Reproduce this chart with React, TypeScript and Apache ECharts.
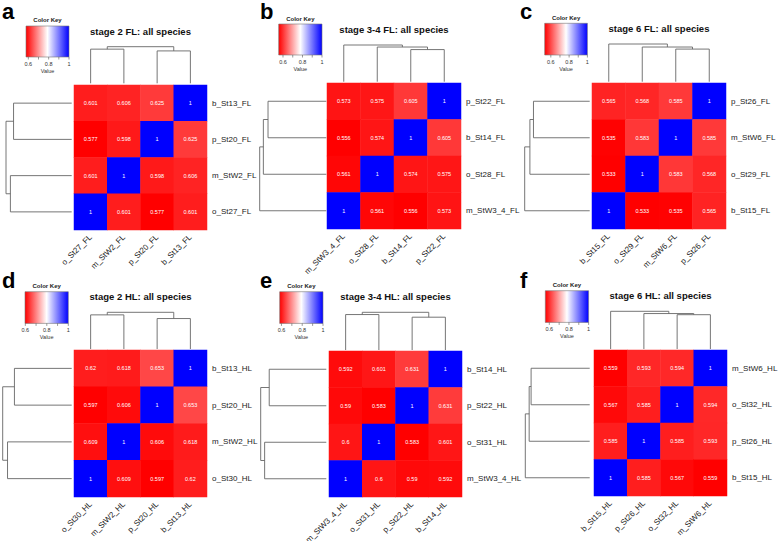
import React, { useEffect, useRef } from 'react';
import * as echarts from 'echarts';

const letters = ['a', 'b', 'c', 'd', 'e', 'f'];
const titles = [
  'stage 2 FL: all species',
  'stage 3-4 FL: all species',
  'stage 6 FL: all species',
  'stage 2 HL: all species',
  'stage 3-4 HL: all species',
  'stage 6 HL: all species',
];

// row labels, top to bottom (columns are the same labels in reverse order)
const labelsA = ['b_St13_FL', 'p_St20_FL', 'm_StW2_FL', 'o_St27_FL'];
const labelsB = ['p_St22_FL', 'b_St14_FL', 'o_St28_FL', 'm_StW3_4_FL'];
const labelsC = ['p_St26_FL', 'm_StW6_FL', 'o_St29_FL', 'b_St15_FL'];
const labelsD = ['b_St13_HL', 'p_St20_HL', 'm_StW2_HL', 'o_St30_HL'];
const labelsE = ['b_St14_HL', 'p_St22_HL', 'o_St31_HL', 'm_StW3_4_HL'];
const labelsF = ['m_StW6_HL', 'o_St32_HL', 'p_St26_HL', 'b_St15_HL'];

// cell values, rows top to bottom, columns left to right
const valuesA = [
  [0.601, 0.606, 0.625, 1],
  [0.577, 0.598, 1, 0.625],
  [0.601, 1, 0.598, 0.606],
  [1, 0.601, 0.577, 0.601],
];
const valuesB = [
  [0.573, 0.575, 0.605, 1],
  [0.556, 0.574, 1, 0.605],
  [0.561, 1, 0.574, 0.575],
  [1, 0.561, 0.556, 0.573],
];
const valuesC = [
  [0.565, 0.568, 0.585, 1],
  [0.535, 0.583, 1, 0.585],
  [0.533, 1, 0.583, 0.568],
  [1, 0.533, 0.535, 0.565],
];
const valuesD = [
  [0.62, 0.618, 0.653, 1],
  [0.597, 0.606, 1, 0.653],
  [0.609, 1, 0.606, 0.618],
  [1, 0.609, 0.597, 0.62],
];
const valuesE = [
  [0.592, 0.601, 0.631, 1],
  [0.59, 0.583, 1, 0.631],
  [0.6, 1, 0.583, 0.601],
  [1, 0.6, 0.59, 0.592],
];
const valuesF = [
  [0.559, 0.593, 0.594, 1],
  [0.567, 0.585, 1, 0.594],
  [0.585, 1, 0.585, 0.593],
  [1, 0.585, 0.567, 0.559],
];

// dendrogram merges (L = leaf in row order, M = earlier merge) and relative heights
const mergesA = [['L0', 'L1'], ['L2', 'L3'], ['M0', 'M1']];
const heightsA = [0.885, 0.933, 1];
const mergesB = [['L0', 'L1'], ['M0', 'L2'], ['M1', 'L3']];
const heightsB = [0.875, 0.945, 1];
const mergesC = [['L0', 'L1'], ['M0', 'L2'], ['M1', 'L3']];
const heightsC = [0.865, 0.92, 1];
const mergesD = [['L0', 'L1'], ['L2', 'L3'], ['M0', 'M1']];
const heightsD = [0.83, 0.93, 1];
const mergesE = [['L0', 'L1'], ['L2', 'L3'], ['M0', 'M1']];
const heightsE = [0.87, 0.94, 1];
const mergesF = [['L0', 'L1'], ['M0', 'L2'], ['M1', 'L3']];
const heightsF = [0.91, 0.94, 1];

const keyTicks = [0.6, 0.7, 0.8, 0.9, 1];
const keyTickLabels = ['0.6', '', '0.8', '', '1'];

const allLabels = [labelsA, labelsB, labelsC, labelsD, labelsE, labelsF];
const allValues = [valuesA, valuesB, valuesC, valuesD, valuesE, valuesF];
const allMerges = [mergesA, mergesB, mergesC, mergesD, mergesE, mergesF];
const allHeights = [heightsA, heightsB, heightsC, heightsD, heightsE, heightsF];

// layout (pixels)
const layouts = [
  { hm: [74, 85, 133, 145], rd: [6, 71.7], cd: [46.7, 83.3], key: [26, 26, 43, 31], keyTitleY: 20, letter: [2, 0], titleY: 31 },
  { hm: [327, 83, 134, 146], rd: [259.7, 326.3], cd: [45, 81.7], key: [278.7, 24, 43.3, 31], keyTitleY: 19, letter: [260, 0], titleY: 29.3 },
  { hm: [592, 83, 134, 146], rd: [524.7, 589.7], cd: [44, 81.7], key: [544.7, 23.3, 42.7, 31.7], keyTitleY: 18.3, letter: [520, 0], titleY: 28.3 },
  { hm: [74, 350, 133, 147], rd: [2.7, 71.7], cd: [312.3, 349], key: [25, 291.7, 43.3, 31.7], keyTitleY: 286, letter: [2, 269], titleY: 296.7 },
  { hm: [329, 351, 133, 146], rd: [260.7, 326.3], cd: [312.3, 350], key: [279.7, 291.7, 43.3, 31.7], keyTitleY: 286, letter: [260, 269], titleY: 296 },
  { hm: [594, 350, 133, 146], rd: [525.3, 589.7], cd: [311.3, 349], key: [545.3, 290.7, 43.3, 31.7], keyTitleY: 285, letter: [520, 269], titleY: 295 },
];

const FONT = 'Liberation Sans, Arial, Helvetica, sans-serif';

function dendroSegs(merges: string[][], heights: number[], leafPos: (i: number) => number, rowMode: boolean) {
  const nodes: { p: number; h: number }[] = [];
  const get = (id: string) =>
    id[0] === 'L' ? { p: leafPos(Number(id.slice(1))), h: 0 } : nodes[Number(id.slice(1))];
  const segs: any[] = [];
  merges.forEach((m, k) => {
    const a = get(m[0]);
    const b = get(m[1]);
    const H = heights[k];
    const pts = [[a.p, a.h], [a.p, H], [b.p, H], [b.p, b.h]];
    segs.push({ coords: rowMode ? pts.map(([p, h]) => [h, p]) : pts });
    nodes.push({ p: (a.p + b.p) / 2, h: H });
  });
  return segs;
}

function buildOption() {
  const grid: any[] = [];
  const xAxis: any[] = [];
  const yAxis: any[] = [];
  const series: any[] = [];
  const lineSeries: any[] = [];
  const visualMap: any[] = [];
  const graphic: any[] = [];

  for (let k = 0; k < 6; k++) {
    const L = layouts[k];
    const rows = allLabels[k];
    const cols = rows.slice().reverse();
    const vals = allValues[k];
    const n = rows.length;
    let vmin = Infinity;
    vals.forEach((r) => r.forEach((v) => { if (v < vmin) vmin = v; }));
    const [hl, ht, hw, hh] = L.hm;

    // heatmap grid
    grid.push({ left: hl, top: ht, width: hw, height: hh, outerBoundsMode: 'none' });
    xAxis.push({
      type: 'category', gridIndex: 3 * k, data: cols,
      axisLine: { show: false }, axisTick: { show: false }, splitLine: { show: false },
      axisLabel: { rotate: 45, fontSize: 8, margin: 6, color: '#222', interval: 0, fontFamily: FONT },
    });
    yAxis.push({
      type: 'category', gridIndex: 3 * k, data: rows, inverse: true, position: 'right',
      axisLine: { show: false }, axisTick: { show: false }, splitLine: { show: false },
      axisLabel: { fontSize: 8, margin: 5, color: '#222', interval: 0, fontFamily: FONT },
    });
    // row dendrogram grid
    grid.push({ left: L.rd[0], top: ht, width: L.rd[1] - L.rd[0], height: hh, outerBoundsMode: 'none' });
    xAxis.push({ type: 'value', gridIndex: 3 * k + 1, min: 0, max: 1, inverse: true, show: false });
    yAxis.push({ type: 'value', gridIndex: 3 * k + 1, min: 0, max: n, inverse: true, show: false });
    // column dendrogram grid
    grid.push({ left: hl, top: L.cd[0], width: hw, height: L.cd[1] - L.cd[0], outerBoundsMode: 'none' });
    xAxis.push({ type: 'value', gridIndex: 3 * k + 2, min: 0, max: n, show: false });
    yAxis.push({ type: 'value', gridIndex: 3 * k + 2, min: 0, max: 1, show: false });

    const data: any[] = [];
    vals.forEach((r, ri) => r.forEach((v, ci) => data.push([ci, ri, v])));
    series.push({
      type: 'heatmap', xAxisIndex: 3 * k, yAxisIndex: 3 * k, data,
      itemStyle: { borderWidth: 0 },
      label: {
        show: true, color: '#ffffff', fontSize: 5.5, fontFamily: FONT,
        formatter: (p: any) => String(p.value[2]),
      },
      emphasis: { disabled: true },
      silent: true,
    });
    visualMap.push({
      type: 'continuous', show: false, seriesIndex: k, dimension: 2, min: vmin, max: 1,
      inRange: { color: ['#ff0000', '#ffffff', '#0000ff'] },
    });

    const lineStyle = { color: '#666', width: 0.9, opacity: 1 };
    lineSeries.push({
      type: 'lines', coordinateSystem: 'cartesian2d', xAxisIndex: 3 * k + 1, yAxisIndex: 3 * k + 1,
      polyline: true, clip: false, silent: true, lineStyle,
      data: dendroSegs(allMerges[k], allHeights[k], (i) => i + 0.5, true),
    });
    lineSeries.push({
      type: 'lines', coordinateSystem: 'cartesian2d', xAxisIndex: 3 * k + 2, yAxisIndex: 3 * k + 2,
      polyline: true, clip: false, silent: true, lineStyle,
      data: dendroSegs(allMerges[k], allHeights[k], (i) => n - 1 - i + 0.5, false),
    });

    // panel letter
    graphic.push({
      type: 'text', x: L.letter[0], y: L.letter[1],
      style: { text: letters[k], font: `bold 22px ${FONT}`, fill: '#000', textVerticalAlign: 'top', verticalAlign: 'top' },
    });
    // title
    graphic.push({
      type: 'text', x: hl + hw / 2, y: L.titleY,
      style: {
        text: titles[k], font: `bold 9.5px ${FONT}`, fill: '#111',
        textAlign: 'center', align: 'center', textVerticalAlign: 'middle', verticalAlign: 'middle',
      },
    });
    // color key
    const [kx, ky, kw, kh] = L.key;
    graphic.push({
      type: 'rect', shape: { x: kx, y: ky, width: kw, height: kh },
      style: {
        fill: new echarts.graphic.LinearGradient(0, 0, 1, 0, [
          { offset: 0, color: '#ff0000' },
          { offset: 0.5, color: '#ffffff' },
          { offset: 1, color: '#0000ff' },
        ]),
        stroke: '#777', lineWidth: 0.6,
      },
    });
    graphic.push({
      type: 'text', x: kx + kw / 2, y: L.keyTitleY,
      style: {
        text: 'Color Key', font: `bold 6px ${FONT}`, fill: '#222',
        textAlign: 'center', align: 'center', textVerticalAlign: 'middle', verticalAlign: 'middle',
      },
    });
    keyTicks.forEach((t, i) => {
      const tx = kx + ((t - vmin) / (1 - vmin)) * kw;
      graphic.push({
        type: 'line', shape: { x1: tx, y1: ky + kh, x2: tx, y2: ky + kh + 2.5 },
        style: { stroke: '#555', lineWidth: 0.6 },
      });
      if (keyTickLabels[i]) {
        graphic.push({
          type: 'text', x: tx, y: ky + kh + 7,
          style: {
            text: keyTickLabels[i], font: `5.5px ${FONT}`, fill: '#333',
            textAlign: 'center', align: 'center', textVerticalAlign: 'middle', verticalAlign: 'middle',
          },
        });
      }
    });
    graphic.push({
      type: 'text', x: kx + kw / 2, y: ky + kh + 14,
      style: {
        text: 'Value', font: `5.5px ${FONT}`, fill: '#333',
        textAlign: 'center', align: 'center', textVerticalAlign: 'middle', verticalAlign: 'middle',
      },
    });
  }

  return {
    animation: false,
    backgroundColor: '#ffffff',
    textStyle: { fontFamily: FONT },
    grid, xAxis, yAxis, visualMap,
    series: series.concat(lineSeries),
    graphic,
  };
}

export default function App() {
  const ref = useRef<HTMLDivElement>(null);
  useEffect(() => {
    if (!ref.current) return;
    const chart = echarts.init(ref.current, null, { renderer: 'svg' });
    chart.setOption(buildOption() as any);
    return () => chart.dispose();
  }, []);
  return (
    <div
      ref={ref}
      style={{ position: 'absolute', left: 0, top: 0, width: 778, height: 541, background: '#fff' }}
    />
  );
}
